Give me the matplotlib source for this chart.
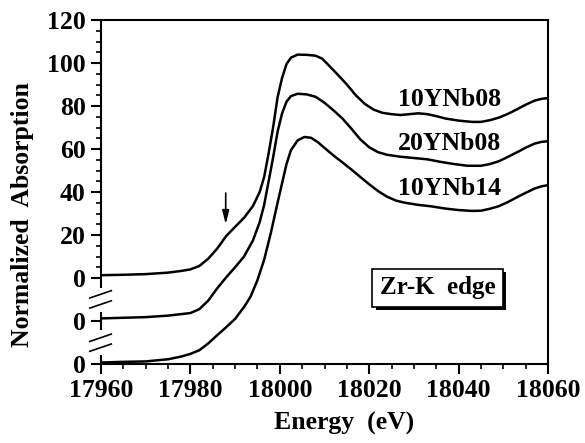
import numpy as np
import matplotlib
matplotlib.use("Agg")
import matplotlib.pyplot as plt
import matplotlib.patheffects as pe
from matplotlib.ticker import FixedLocator, MultipleLocator

# curves (already shifted by their offsets)
e_top = [17960, 17965, 17970, 17975, 17978, 17980, 17982, 17984, 17986, 17988, 17990, 17992, 17994,
         17995.5, 17996.5, 17997.5, 17998.5, 17999.5, 18000.5, 18001.5, 18002.5, 18004, 18006, 18008,
         18009.5, 18011, 18013, 18015, 18017, 18019, 18021, 18023, 18025, 18027, 18029, 18031, 18033,
         18035, 18037, 18040, 18043, 18045, 18047, 18049, 18051, 18053, 18055, 18057, 18058.5, 18060]
v_top = [1.3, 1.5, 1.8, 2.5, 3.3, 4.0, 5.6, 9.0, 13.7, 19.5, 23.8, 28.0, 33.5,
         40, 47, 58, 70, 84, 93, 99.5, 102.5, 103.9, 103.8, 103.4,
         102, 98.8, 94.5, 90, 85, 81, 78.3, 76.8, 76.2, 75.8, 76.2, 76.6, 76.2,
         75.3, 74.2, 73.2, 72.6, 72.6, 73.4, 74.6, 76.3, 78.4, 80.6, 82.5, 83.3, 83.7]

e_mid = [17960, 17965, 17970, 17975, 17980, 17982, 17984, 17986, 17988, 17990, 17992, 17994, 17995.5,
         17996.5, 17997.5, 17998.5, 17999.5, 18000.5, 18001.5, 18002.5, 18004, 18006, 18008, 18010,
         18012, 18014, 18016, 18018, 18020, 18022, 18024, 18027, 18030, 18033, 18036, 18039, 18042,
         18045, 18047, 18049, 18051, 18053, 18055, 18057, 18058.5, 18060]
v_mid = [-18.8, -18.5, -18.2, -17.5, -16.3, -14.5, -10.5, -4.8, 0.3, 5.0, 10, 17.5, 26,
         34, 45, 56, 68, 76.5, 82, 84.6, 85.7, 85.4, 84.3, 81.5,
         78, 74.2, 69.5, 64.5, 60.8, 58.5, 57.3, 56.4, 55.8, 55.2, 54, 53, 52.2,
         52.2, 53, 54.3, 56.3, 58.4, 60.6, 62.5, 63.3, 63.6]

e_bot = [17960, 17965, 17970, 17975, 17978, 17980, 17982, 17984, 17986, 17988, 17990, 17992, 17993.5,
         17995, 17996.5, 17998, 17999.5, 18000.5, 18001.5, 18002.5, 18004, 18005.5, 18007, 18008.5,
         18010, 18012, 18014, 18016, 18018, 18020, 18022, 18024, 18026, 18028, 18031, 18034, 18037,
         18040, 18043, 18045, 18047, 18049, 18051, 18053, 18055, 18057, 18058.5, 18060]
v_bot = [-39.3, -39.0, -38.8, -37.8, -36.5, -35.3, -33.6, -30.4, -26.6, -22.9, -19, -13.5, -8.5,
         -1, 8.5, 21, 35, 44, 53, 59.5, 64, 65.6, 65.2, 63.2,
         60.5, 57, 53.8, 50.5, 47, 43.6, 40.4, 37.8, 36, 35, 34, 33.3, 32.3,
         31.6, 31.2, 31.3, 32.2, 33.4, 35.3, 37.5, 39.6, 41.6, 42.6, 43.2]

names = ["10YNb08", "20YNb08", "10YNb14"]
name_y = [83, 62.6, 41.8]
name_x = 18038

ytick_vals = [-40, -20, 0, 20, 40, 60, 80, 100, 120]
ytick_labels = ["0", "0", "0", "20", "40", "60", "80", "100", "120"]

plt.rcParams['font.family'] = ['Liberation Serif', 'DejaVu Serif']
plt.rcParams['font.weight'] = 'bold'
fs = 18.5

fig = plt.figure(figsize=(5.85, 4.43), dpi=100)
ax = fig.add_axes([101/585, 1-364/443, 447/585, 344/443])

for e, v in [(e_top, v_top), (e_mid, v_mid), (e_bot, v_bot)]:
    ax.plot(e, v, color='k', lw=1.8)

for n, y in zip(names, name_y):
    ax.text(name_x, y, n, fontsize=fs, fontweight='bold', ha='center', va='center')

ax.set_xlim(17960, 18060)
ax.set_ylim(-40, 120)
ax.set_xticks([17960, 17980, 18000, 18020, 18040, 18060])
ax.xaxis.set_minor_locator(MultipleLocator(5))
ax.set_yticks(ytick_vals)
ax.set_yticklabels(ytick_labels)
ax.yaxis.set_minor_locator(FixedLocator([v for v in range(5, 120, 5) if v % 20]))
ax.tick_params(axis='both', which='major', direction='out', length=7, width=1.5, labelsize=fs, pad=4)
ax.tick_params(axis='both', which='minor', direction='out', length=3.5, width=1.2)
for lab in ax.get_xticklabels() + ax.get_yticklabels():
    lab.set_fontweight('bold')

for s in ['top', 'right', 'bottom']:
    ax.spines[s].set_linewidth(1.5)
ax.spines['left'].set_visible(False)

# broken left axis
for lo, hi in [(-4.6, 120), (-15.6, -24), (-35.7, -40)]:
    ax.plot([17960, 17960], [lo, hi], color='k', lw=1.5, clip_on=False, solid_capstyle='butt')
for yc in [-7.6, -12.3, -27.8, -32.4]:
    ax.plot([17957.5, 17962.3], [yc - 1.7, yc + 1.7], color='k', lw=1.2, clip_on=False)

# arrow marking the pre-edge shoulder
ax.annotate("", xy=(17987.9, 25.0), xytext=(17987.9, 39.5),
            arrowprops=dict(arrowstyle="-|>,head_width=0.2,head_length=0.8", color='k', lw=1.2,
                            shrinkA=0, shrinkB=0))

t = ax.text(18035.3, -4.6, "Zr-K  edge", fontsize=18, fontweight='bold', ha='center', va='center',
            bbox=dict(boxstyle='square,pad=0.3', fc='white', ec='k', lw=1.2))
t.get_bbox_patch().set_path_effects([pe.SimplePatchShadow(offset=(2.5, -2.5), shadow_rgbFace='k', alpha=1),
                                     pe.Normal()])

fig.text(23/585, 1-215/443, "Normalized  Absorption", rotation=90, fontsize=fs, fontweight='bold',
         ha='center', va='center')
fig.text(344/585, 1-423/443, "Energy  (eV)", fontsize=fs, fontweight='bold', ha='center', va='center')

fig.savefig("out.png", dpi=100)
